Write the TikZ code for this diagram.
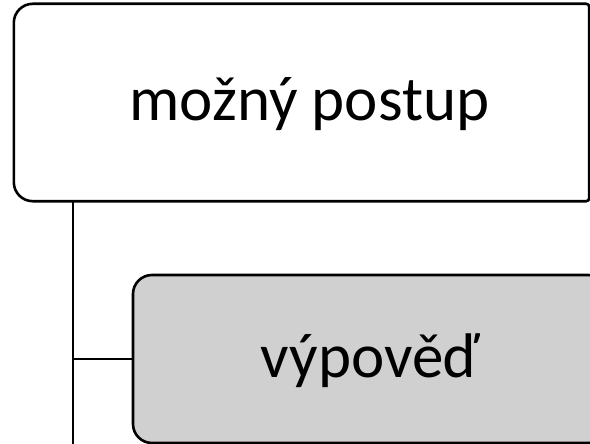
\documentclass[tikz,border=0pt]{standalone}
\usepackage{fontspec}
\setmainfont{Carlito}
\definecolor{boxgray}{HTML}{D0D0D0}
\begin{document}
\begin{tikzpicture}[x=1pt,y=-1pt,
  frame/.style={draw=black,line width=2.6pt,rounded corners=19pt,inner sep=0pt},
  bigtext/.style={font=\fontsize{63}{70}\selectfont,inner sep=0pt},
  conn/.style={draw=black,line width=2.5pt}]
\useasboundingbox (0,0) rectangle (590,444);
\begin{scope}
\clip (0,0) rectangle (590,444);
\node[inner sep=0pt,fill=white,minimum width=575pt,minimum height=197pt] (top) at (301.5,102.5) {};
\draw[line width=2.6pt]
  [rounded corners=3pt] (top.north) -- (top.north east) -- (top.south east) -- (top.south)
  [rounded corners=19pt] -- (top.south west) -- (top.north west) -- cycle;
\node[bigtext,anchor=base] (toptext) at (309.5,121) {možný postup};
\node[frame,fill=boxgray,minimum width=474pt,minimum height=168pt] (child) at (370,359) {};
\node[bigtext,anchor=base] (childtext) at (370,377) {výpověď};
\coordinate (stem) at (73,450);
\draw[conn] (top.south -| stem) -- (stem);
\draw[conn] (child.west -| stem) -- (child.west);
\end{scope}
\end{tikzpicture}
\end{document}
